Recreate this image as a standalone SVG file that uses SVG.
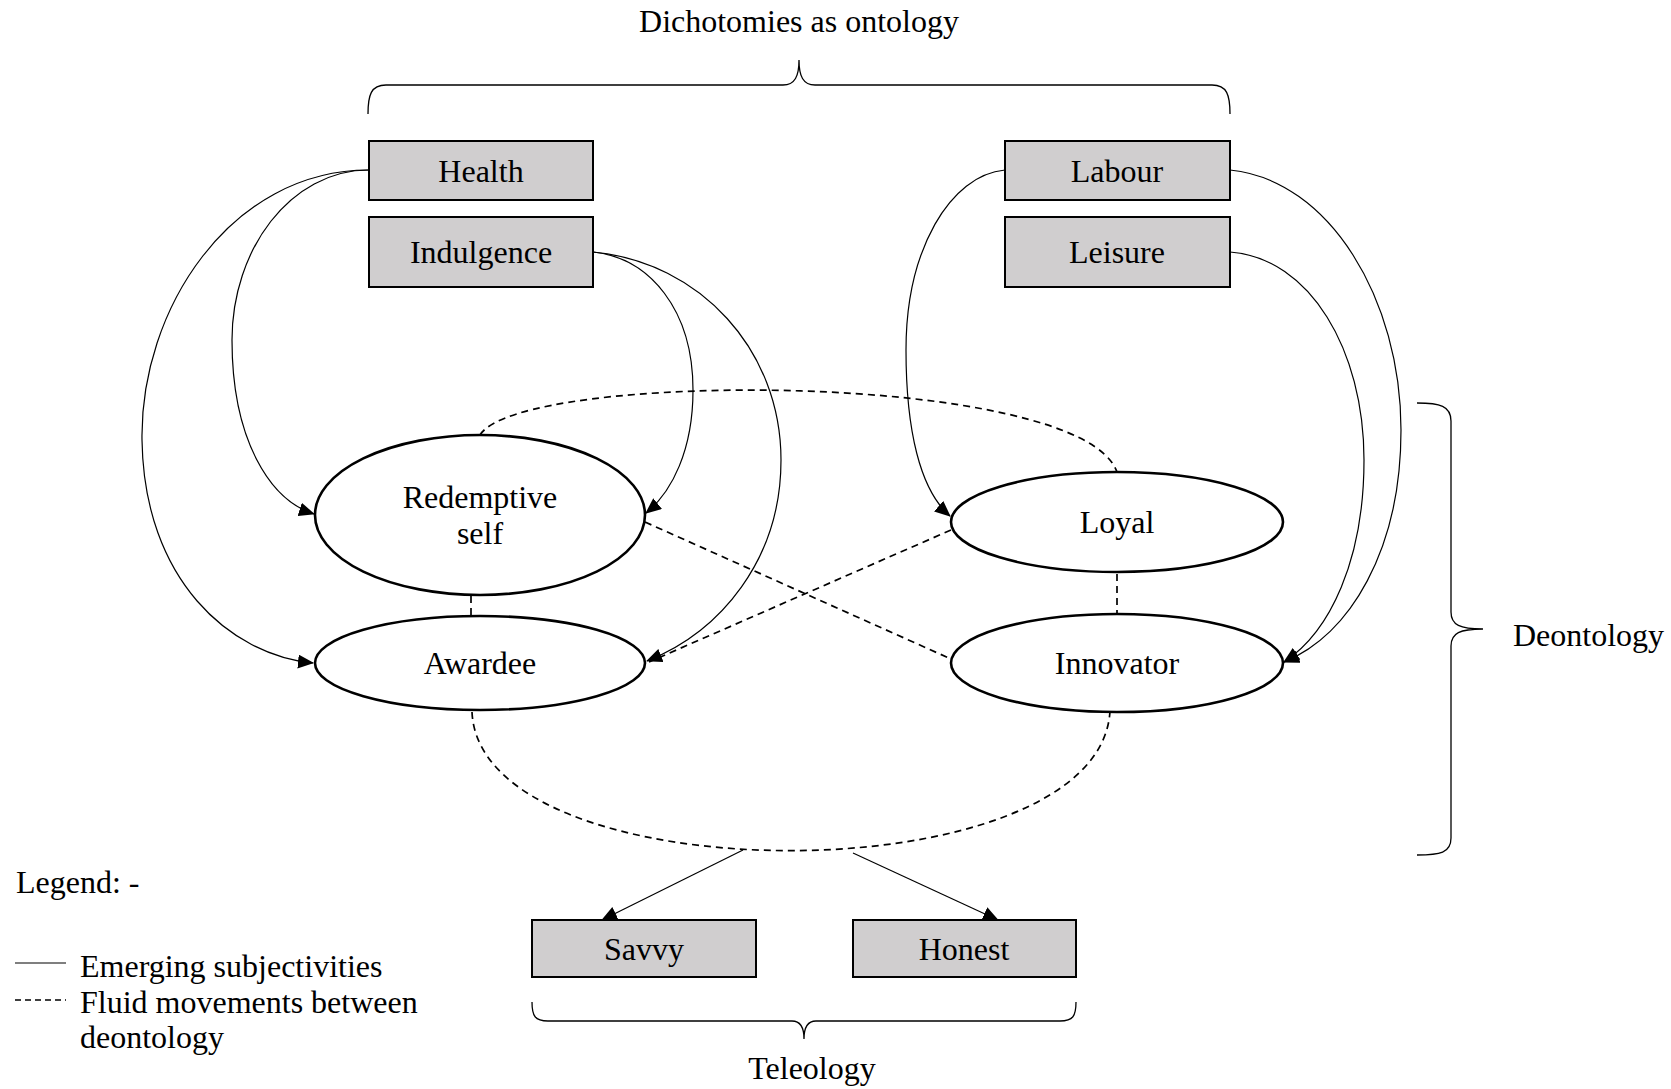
<svg xmlns="http://www.w3.org/2000/svg" width="1671" height="1089" viewBox="0 0 1671 1089">
<style>
text{font-family:"Liberation Serif","Times New Roman",serif;font-size:32px;fill:#000}
.box{fill:#d0cecf;stroke:#000;stroke-width:2}
.ell{fill:#fff;stroke:#000;stroke-width:2.6}
.sol{fill:none;stroke:#000;stroke-width:1.2}
.dash{fill:none;stroke:#000;stroke-width:1.7;stroke-dasharray:7 5}
.brace{fill:none;stroke:#000;stroke-width:1.3}
.c{text-anchor:middle;dominant-baseline:central}
.l{dominant-baseline:central}
</style>
<defs>
<marker id="arr" markerUnits="userSpaceOnUse" markerWidth="16" markerHeight="14" refX="15" refY="7" orient="auto">
<path d="M0,0 L16,7 L0,14 Z" fill="#000"/>
</marker>
</defs>
<rect width="1671" height="1089" fill="#fff"/>
<g id="braces">
<path class="brace" d="M368 114 C368 95 371 85 386 85 L783 85 C795 85 799 76 799 60 C799 76 803 85 815 85 L1212 85 C1227 85 1230 95 1230 114"/>
<path class="brace" d="M1417 403 C1440 403 1451 406 1451 421 L1451 612 C1451 625 1460 629 1483 629 C1460 629 1451 633 1451 646 L1451 838 C1451 853 1440 855 1417 855"/>
<path class="brace" d="M532 1002 C532 1016 535 1021 548 1021 L792 1021 C800 1021 804 1026 804 1039 C804 1026 808 1021 816 1021 L1060 1021 C1073 1021 1076 1016 1076 1002"/>
<text class="c" x="799" y="21">Dichotomies as ontology</text>
<text class="l" x="1513" y="635">Deontology</text>
<text class="c" x="812" y="1068">Teleology</text>
</g>
<g id="connectors">
<path class="sol" marker-end="url(#arr)" d="M369 170 C230 170 140 310 142 440 C144 580 230 655 313 663"/>
<path class="sol" marker-end="url(#arr)" d="M369 170 C290 170 232 250 232 340 C232 440 270 500 314 514"/>
<path class="sol" marker-end="url(#arr)" d="M593 252 C650 258 693 310 693 390 C693 450 672 492 646 513"/>
<path class="sol" marker-end="url(#arr)" d="M593 252 C700 262 781 350 781 460 C781 560 720 632 647 661"/>
<path class="sol" marker-end="url(#arr)" d="M1005 170 C950 175 906 250 906 350 C906 430 920 490 950 516"/>
<path class="sol" marker-end="url(#arr)" d="M1230 170 C1330 180 1401 300 1401 430 C1401 550 1350 635 1284 662"/>
<path class="sol" marker-end="url(#arr)" d="M1230 252 C1310 258 1364 350 1364 460 C1364 560 1330 632 1284 662"/>
<path class="sol" marker-end="url(#arr)" d="M743 850 L602 920"/>
<path class="sol" marker-end="url(#arr)" d="M853 853 L998 920"/>
<path class="dash" d="M480 435 C520 370 1080 370 1117 472"/>
<path class="dash" d="M471 572 L471 616"/>
<path class="dash" d="M1117 574 L1117 614"/>
<path class="dash" d="M645 522 L951 659"/>
<path class="dash" d="M951 530 L649 662"/>
<path class="dash" d="M472 712 C480 897 1100 897 1110 711"/>
</g>
<g id="health"><rect class="box" x="369" y="141" width="224" height="59"/><text class="c" x="481" y="171">Health</text></g>
<g id="indulgence"><rect class="box" x="369" y="217" width="224" height="70"/><text class="c" x="481" y="252">Indulgence</text></g>
<g id="labour"><rect class="box" x="1005" y="141" width="225" height="59"/><text class="c" x="1117" y="171">Labour</text></g>
<g id="leisure"><rect class="box" x="1005" y="217" width="225" height="70"/><text class="c" x="1117" y="252">Leisure</text></g>
<g id="redemptive"><ellipse class="ell" cx="480" cy="515" rx="165" ry="80"/><text class="c" x="480" y="497">Redemptive</text><text class="c" x="480" y="533">self</text></g>
<g id="awardee"><ellipse class="ell" cx="480" cy="663" rx="165" ry="47"/><text class="c" x="480" y="663">Awardee</text></g>
<g id="loyal"><ellipse class="ell" cx="1117" cy="522" rx="166" ry="50"/><text class="c" x="1117" y="522">Loyal</text></g>
<g id="innovator"><ellipse class="ell" cx="1117" cy="663" rx="166" ry="49"/><text class="c" x="1117" y="663">Innovator</text></g>
<g id="savvy"><rect class="box" x="532" y="920" width="224" height="57"/><text class="c" x="644" y="949">Savvy</text></g>
<g id="honest"><rect class="box" x="853" y="920" width="223" height="57"/><text class="c" x="964" y="949">Honest</text></g>
<g id="legend">
<text class="l" x="16" y="882">Legend: -</text>
<line class="sol" x1="15" y1="963" x2="66" y2="963"/>
<text class="l" x="80" y="966">Emerging subjectivities</text>
<line class="dash" x1="15" y1="1000" x2="66" y2="1000" style="stroke-dasharray:6 4;stroke-width:1.3"/>
<text class="l" x="80" y="1002">Fluid movements between</text>
<text class="l" x="80" y="1037">deontology</text>
</g>
</svg>
